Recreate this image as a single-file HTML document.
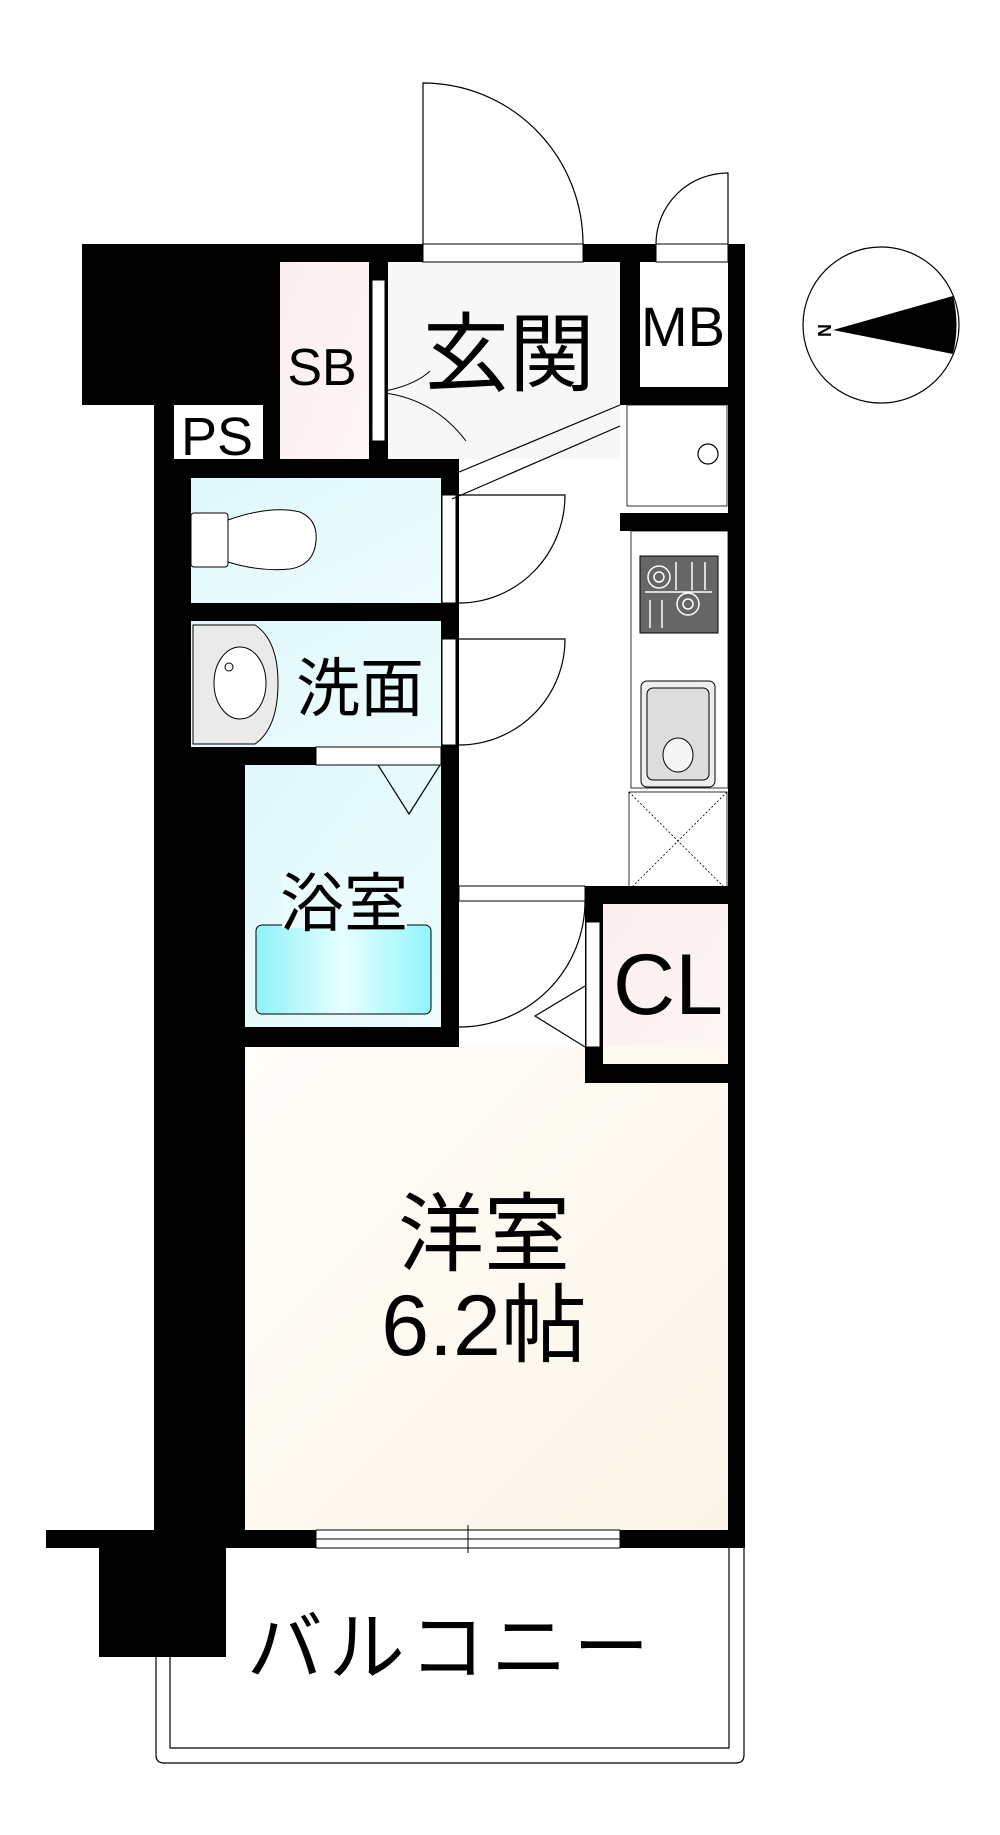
<!DOCTYPE html>
<html><head><meta charset="utf-8"><style>
html,body{margin:0;padding:0;background:#fff;}
svg{display:block;}
text{font-family:"Liberation Sans","Noto Sans CJK JP",sans-serif;fill:#000;}
</style></head><body>
<svg width="1000" height="1835" viewBox="0 0 1000 1835" xmlns="http://www.w3.org/2000/svg">
<defs>
<linearGradient id="cy" x1="0" y1="0" x2="1" y2="1"><stop offset="0" stop-color="#dff8fb"/><stop offset="1" stop-color="#eefcfd"/></linearGradient>
<linearGradient id="pk" x1="0" y1="0" x2="1" y2="1"><stop offset="0" stop-color="#fbeeee"/><stop offset="1" stop-color="#fff6f6"/></linearGradient>
<linearGradient id="yo" x1="0" y1="0" x2="1" y2="1"><stop offset="0" stop-color="#fffdf9"/><stop offset="1" stop-color="#fbf5e8"/></linearGradient>
<linearGradient id="tub" x1="0" y1="0" x2="1" y2="0"><stop offset="0" stop-color="#8ef3f8"/><stop offset="0.5" stop-color="#e8ffff"/><stop offset="1" stop-color="#90f5fb"/></linearGradient>
</defs>

<rect x="280" y="262" width="89" height="197" fill="url(#pk)"/>
<rect x="388" y="262" width="232" height="197" fill="#f7f7f7"/>
<rect x="640" y="262" width="88" height="125" fill="#fff"/>
<rect x="191" y="478" width="250" height="125" fill="url(#cy)"/>
<rect x="191" y="621" width="250" height="126" fill="url(#cy)"/>
<rect x="245" y="765" width="196" height="262" fill="url(#cy)"/>
<rect x="603" y="904" width="125" height="160" fill="url(#pk)"/>
<rect x="245" y="1047" width="483" height="483" fill="url(#yo)"/>

<g fill="#000">
<rect x="82" y="244" width="663" height="18"/>
<rect x="82" y="244" width="198" height="161"/>
<rect x="154" y="405" width="20" height="1143"/>
<rect x="154" y="459" width="37" height="1089"/>
<rect x="154" y="750" width="91" height="798"/>
<rect x="263" y="262" width="17" height="197"/>
<rect x="154" y="459" width="305" height="19"/>
<rect x="369" y="262" width="19" height="197"/>
<rect x="620" y="262" width="20" height="143"/>
<rect x="620" y="387" width="125" height="18"/>
<rect x="728" y="244" width="17" height="1304"/>
<rect x="441" y="459" width="18" height="588"/>
<rect x="154" y="603" width="305" height="18"/>
<rect x="154" y="747" width="305" height="18"/>
<rect x="154" y="1027" width="305" height="20"/>
<rect x="620" y="513" width="125" height="18"/>
<rect x="585" y="886" width="160" height="18"/>
<rect x="585" y="886" width="18" height="197"/>
<rect x="585" y="1064" width="160" height="19"/>
<rect x="46" y="1530" width="699" height="18"/>
<rect x="99" y="1548" width="127" height="109"/>
</g>

<g fill="#fff" stroke="#000" stroke-width="1">
<rect x="423" y="244" width="160" height="18"/>
<rect x="656" y="244" width="72" height="18"/>
<rect x="372" y="280" width="13" height="161"/>
<rect x="442" y="495" width="14" height="108"/>
<rect x="442" y="639" width="14" height="106"/>
<rect x="316" y="747" width="125" height="18"/>
<rect x="459" y="886" width="126" height="15"/>
<rect x="586" y="922" width="14" height="125"/>
<rect x="316" y="1530" width="304" height="18"/>
</g>
<line x1="316" y1="1539" x2="620" y2="1539" stroke="#000" stroke-width="1"/>
<line x1="468" y1="1525" x2="468" y2="1553" stroke="#000" stroke-width="1"/>

<rect x="174" y="406" width="89" height="53" fill="#fff"/>

<g fill="none" stroke="#000" stroke-width="1.2">
<path d="M423 244 V83 A160 161 0 0 1 583 244"/>
<path d="M728 244 V173 A72 71 0 0 0 656 244"/>
<path d="M459 495 H565 A106 108 0 0 1 459 603"/>
<path d="M459 639 H565 A106 106 0 0 1 459 745"/>
<path d="M459 1027 A126 126 0 0 0 585 901"/>
<path d="M585 986 L535 1016 L585 1047"/>
<path d="M378 765 L409 814 L440 765"/>
<path d="M620 426 L452 499"/>
<path d="M620 405 L452 475"/>
<path d="M385 391 Q415 385 430 371 M385 393 Q435 400 466 441" stroke-width="1"/>
<path d="M156 1548 V1755 Q156 1763 164 1763 H736 Q744 1763 744 1755 V1548"/>
<path d="M170 1657 V1748 H729 V1548"/>
<rect x="629" y="792" width="98" height="98" stroke-width="0.8"/>
<path d="M629 792 L727 890 M727 792 L629 890" stroke-width="0.8" stroke-dasharray="2 2"/>
<rect x="627" y="405" width="100" height="101" stroke-width="0.8"/>
<circle cx="708" cy="454" r="10"/>
<rect x="631" y="531" width="97" height="257" stroke-width="0.8"/>
</g>

<rect x="640" y="556" width="78" height="77" fill="#666" stroke="#000"/>
<g fill="none" stroke="#fff" stroke-width="1.5">
<circle cx="659" cy="577" r="11"/><circle cx="659" cy="577" r="5"/>
<circle cx="688" cy="604" r="11"/><circle cx="688" cy="604" r="5"/>
<path d="M645 592 H712 M676 562 V590 M692 562 V590 M705 562 V590 M650 600 V628 M662 600 V628"/>
</g>
<rect x="641" y="681" width="74" height="106" rx="6" fill="#eee" stroke="#000"/>
<rect x="647" y="688" width="62" height="92" rx="6" fill="#ddd" stroke="#000"/>
<ellipse cx="678" cy="755" rx="15" ry="17" fill="#f5f5f5" stroke="#000"/>

<rect x="191" y="513" width="37" height="54" rx="3" fill="#fff" stroke="#000"/>
<path d="M228 520 Q270 505 300 512 Q318 520 316 541 Q314 565 290 569 Q260 572 228 562 Z" fill="#fff" stroke="#000"/>
<path d="M193 625 H255 Q278 640 278 683 Q278 728 255 744 H193 Z" fill="#eaeaea" stroke="#000"/>
<ellipse cx="240" cy="683" rx="26" ry="36" fill="#fff" stroke="#000"/>
<circle cx="229" cy="667" r="4" fill="none" stroke="#000"/>

<rect x="256" y="925" width="175" height="89" rx="6" fill="url(#tub)" stroke="#000"/>

<circle cx="881" cy="325" r="78" fill="#fff" stroke="#000" stroke-width="1.2"/>
<path d="M833 330 L953 296 Q960 325 953 354 Z" fill="#000"/>
<text x="812" y="330" font-size="18" font-weight="bold" transform="rotate(90 818 330)">N</text>

<text x="322" y="385" font-size="52" text-anchor="middle">SB</text>
<text x="509" y="384" font-size="86" text-anchor="middle">玄関</text>
<text x="683" y="346" font-size="56" text-anchor="middle">MB</text>
<text x="217" y="455" font-size="54" text-anchor="middle">PS</text>
<text x="360" y="711" font-size="64" text-anchor="middle">洗面</text>
<rect x="282" y="872" width="125" height="56" fill="#e9fbfd"/>
<text x="344" y="926" font-size="64" text-anchor="middle">浴室</text>
<text x="668" y="1014" font-size="86" text-anchor="middle">CL</text>
<text x="484" y="1264" font-size="86" text-anchor="middle">洋室</text>
<text x="484" y="1355" font-size="86" text-anchor="middle">6.2帖</text>
<text x="451" y="1674" font-size="76" text-anchor="middle" letter-spacing="6">バルコニー</text>
</svg>
</body></html>
